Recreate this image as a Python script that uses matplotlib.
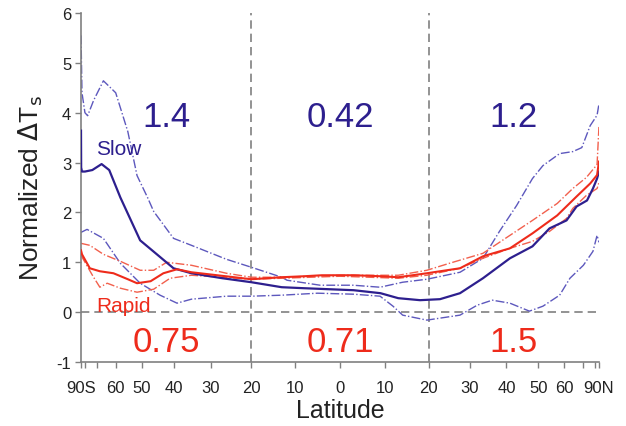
import numpy as np
import matplotlib
matplotlib.use("Agg")
import matplotlib.pyplot as plt

plt.rcParams['font.family'] = ['Liberation Sans', 'DejaVu Sans']
plt.rcParams['axes.unicode_minus'] = False

# ---- data (latitude in degrees, normalized warming) ----
slow_lat = [-90, -88, -85, -80, -73, -67, -63, -58, -50.5, -45, -40, -35, -27, -20, -13,
            -8, 3, 9, 13, 18, 22.7, 27.6, 33.5, 41, 48, 54, 61, 66, 72.5, 77.6, 83, 90]
slow_val = [3.64, 2.9, 2.82, 2.82, 2.85, 2.97, 2.85, 2.3, 1.44, 1.16, 0.88, 0.78, 0.68, 0.6, 0.5,
            0.48, 0.44, 0.38, 0.28, 0.24, 0.26, 0.38, 0.68, 1.08, 1.32, 1.68, 1.84, 2.12, 2.24, 2.48, 2.68, 2.82]

slow_hi_lat = [-90, -85, -80, -77, -72, -66, -60, -55, -51.6, -48, -46, -40, -35, -26, -20, -13,
               -11.8, -4.4, 2.9, 8.9, 14, 19.6, 27.6, 33.5, 38, 43, 48, 51.6, 58, 64, 69, 75, 83, 90]
slow_hi_val = [5.55, 4.4, 4.0, 3.94, 4.25, 4.64, 4.4, 3.62, 2.74, 2.3, 2.02, 1.48, 1.34, 1.06, 0.9, 0.7,
               0.64, 0.54, 0.54, 0.5, 0.6, 0.66, 0.8, 1.08, 1.62, 2.14, 2.68, 2.94, 3.18, 3.22, 3.3, 3.74, 3.95, 4.18]

slow_lo_lat = [-90, -77.6, -66, -58, -50.5, -44, -39, -35, -26, -20, -13, -5, 3, 8.9, 11.8, 14,
               19.6, 27.6, 32, 36, 41, 47, 51.6, 58, 62.6, 70, 77.6, 83, 90]
slow_lo_val = [1.6, 1.66, 1.48, 0.98, 0.58, 0.34, 0.18, 0.26, 0.32, 0.32, 0.34, 0.38, 0.36, 0.32, 0.12, -0.06,
               -0.16, -0.06, 0.14, 0.24, 0.18, 0.02, 0.12, 0.34, 0.68, 0.94, 1.22, 1.54, 1.4]

rapid_lat = [-90, -85, -75, -68, -61, -55, -51.6, -47, -43, -39, -35, -20, -13, -8, -4, 3, 9, 13,
             19.6, 27.6, 33.5, 41, 48, 57, 66, 75, 83, 90]
rapid_val = [1.24, 1.16, 0.88, 0.82, 0.78, 0.66, 0.58, 0.62, 0.78, 0.86, 0.8, 0.66, 0.7, 0.72, 0.74, 0.74, 0.72, 0.7,
             0.78, 0.88, 1.12, 1.28, 1.58, 1.94, 2.32, 2.58, 2.75, 3.02]

rapid_hi_lat = [-90, -75, -66, -58, -50.5, -46, -42, -35, -26, -20, -13, 0, 13, 19.6, 25, 33.5,
                41, 48, 57, 64, 72, 83, 90]
rapid_hi_val = [1.38, 1.34, 1.16, 1.02, 0.84, 0.84, 1.0, 0.94, 0.78, 0.7, 0.7, 0.74, 0.74, 0.84, 0.98, 1.18,
                1.54, 1.84, 2.18, 2.48, 2.7, 2.96, 3.74]

rapid_lo_lat = [-90, -72.5, -68, -64, -58, -51.6, -46, -41, -35, -20, -13, 0, 13, 19.6, 27.6, 33.5,
                41, 48, 54, 61, 64, 72, 83, 90]
rapid_lo_val = [1.14, 0.72, 0.5, 0.58, 0.48, 0.4, 0.46, 0.68, 0.74, 0.66, 0.68, 0.72, 0.68, 0.74, 0.88, 1.08,
                1.28, 1.42, 1.62, 1.88, 2.08, 2.34, 2.48, 2.6]

tick_lats = [-90, -80, -70, -60, -50, -40, -30, -20, -10, 0, 10, 20, 30, 40, 50, 60, 70, 80, 90]
tick_labels = ['90S', '', '', '60', '50', '40', '30', '20', '10', '0', '10', '20', '30', '40', '50', '60', '', '', '90N']

slow_numbers = ['1.4', '0.42', '1.2']
rapid_numbers = ['0.75', '0.71', '1.5']
region_centers = [-42, 0, 42]
region_bounds = [-20, 20]

NAVY = '#2d1f8e'
NAVY_LIGHT = '#5d58bd'
RED = '#ee2b1b'
RED_LIGHT = '#f2604d'
GRAY = '#808080'

fig = plt.figure(figsize=(6.26, 4.27), dpi=100)
ax = fig.add_axes([81/626, 1 - 363/427, 518/626, 349/427])

fwd = lambda x: np.sin(np.deg2rad(x))
inv = lambda y: np.rad2deg(np.arcsin(np.clip(y, -1, 1)))
ax.set_xscale('function', functions=(fwd, inv))
ax.set_xlim(-90, 90)
ax.set_ylim(-1, 6)

# reference lines
ax.axhline(0, color=GRAY, lw=1.2, ls=(0, (5, 3)), zorder=1)
for b in region_bounds:
    ax.axvline(b, color=GRAY, lw=1.2, ls=(0, (5, 3)), zorder=1)

ax.plot(slow_hi_lat, slow_hi_val, color=NAVY_LIGHT, lw=1.0, ls='-.', zorder=2)
ax.plot(slow_lo_lat, slow_lo_val, color=NAVY_LIGHT, lw=1.0, ls='-.', zorder=2)
ax.plot(rapid_hi_lat, rapid_hi_val, color=RED_LIGHT, lw=1.0, ls='-.', zorder=2)
ax.plot(rapid_lo_lat, rapid_lo_val, color=RED_LIGHT, lw=1.0, ls='-.', zorder=2)
ax.plot(slow_lat, slow_val, color=NAVY, lw=1.6, zorder=3)
ax.plot(rapid_lat, rapid_val, color=RED, lw=1.5, zorder=4)

for xc, s, r in zip(region_centers, slow_numbers, rapid_numbers):
    ax.text(xc, 3.92, s, color=NAVY, fontsize=25, ha='center', va='center')
    ax.text(xc, -0.58, r, color=RED, fontsize=25, ha='center', va='center')

ax.text(-70.5, 3.28, 'Slow', color=NAVY, fontsize=15, ha='left', va='center')
ax.text(-70.5, 0.02, 'Rapid', color=RED, fontsize=15, ha='left', va='baseline')

ax.set_xticks(tick_lats)
ax.set_xticklabels(tick_labels)
ax.set_yticks(range(-1, 7))
ax.tick_params(axis='both', direction='out', length=4, width=1, color=GRAY,
               labelsize=12, labelcolor='#222222')
ax.tick_params(axis='x', pad=9)
ax.tick_params(axis='y', pad=3)
ax.minorticks_off()

for side in ['top', 'right']:
    ax.spines[side].set_visible(False)
for side in ['left', 'bottom']:
    ax.spines[side].set_color(GRAY)
    ax.spines[side].set_linewidth(1.2)

ax.set_xlabel('Latitude', fontsize=18, color='#222222', labelpad=2)
ax.set_ylabel(r'Normalized $\Delta$T$_{\rm s}$', fontsize=19, color='#222222', labelpad=8)

fig.savefig('out.png', dpi=100)
